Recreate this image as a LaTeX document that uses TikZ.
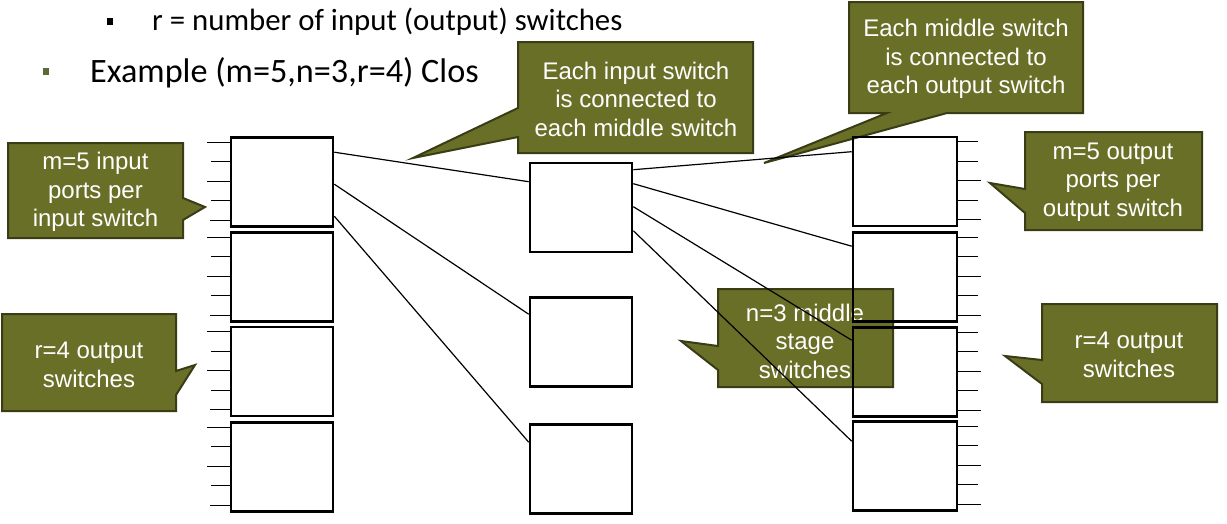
\documentclass[tikz,border=0pt]{standalone}
\usepackage{fontspec}
\setmainfont{Liberation Sans}
\newfontfamily\calfont{Carlito}
\definecolor{olivefill}{HTML}{6A6F28}
\definecolor{olivedraw}{HTML}{393C15}
\definecolor{bulletgreen}{HTML}{5C6A35}
\begin{document}
\begin{tikzpicture}[x=1pt,y=-1pt,
  swbox/.style={draw=black,line width=2.6pt,minimum width=102pt,minimum height=89pt,inner sep=0pt},
  port/.style={draw=black,line width=1.3pt},
  link/.style={draw=black,line width=1.2pt},
  callbg/.style={fill=olivefill,draw=olivedraw,line width=2pt,line join=miter},
  ctext/.style={text=white,align=center,inner sep=0pt,font=\fontsize{24}{28.5}\selectfont},
]
\useasboundingbox (0,0) rectangle (1227,523);

% top text
\fill[black] (107,17.5) rectangle (113,24.5);
\node[anchor=base west,inner sep=0pt,font=\calfont\fontsize{30.8}{36}\selectfont] (t1) at (152,30) {r = number of input (output) switches};
\fill[bulletgreen] (43,68) rectangle (49,75);
\node[anchor=base west,inner sep=0pt,font=\calfont\fontsize{34.2}{40}\selectfont] (t2) at (90,82) {Example (m=5,n=3,r=4) Clos};

% callouts (behind)
\path[callbg] (8,143) -- (183,143) -- (183,198) -- (205,207) -- (183,220) -- (183,238) -- (8,238) -- cycle;
\node[ctext] (c1) at (95.5,192) {m=5 input\\ports per\\input switch};

\path[callbg] (2,314) -- (176,314) -- (176,371) -- (195,365) -- (176,395) -- (176,411) -- (2,411) -- cycle;
\node[ctext] (c2) at (89,365) {r=4 output\\switches};

\path[callbg] (518,42) -- (753,42) -- (753,153) -- (518,153) -- (518,137) -- (413,158) -- (518,108) -- cycle;
\node[ctext] (c3) at (636,99) {Each input switch\\is connected to\\each middle switch};

\path[callbg] (849,2) -- (1083,2) -- (1083,113) -- (947,113) -- (764,163) -- (887,113) -- (849,113) -- cycle;
\node[ctext] (c4) at (966,59) {Each middle switch\\is connected to\\each output switch};

\path[callbg] (1025,132) -- (1202,132) -- (1202,230) -- (1025,230) -- (1025,213) -- (990,183) -- (1025,189) -- cycle;
\node[ctext] (c5) at (1113,182) {m=5 output\\ports per\\output switch};

\path[callbg] (718,289) -- (893,289) -- (893,387) -- (718,387) -- (718,370) -- (681,341) -- (718,346) -- cycle;
\node[ctext] (c6) at (805,341) {n=3 middle\\stage\\switches};

\path[callbg] (1042,304) -- (1217,304) -- (1217,402) -- (1042,402) -- (1042,384) -- (1005,356) -- (1042,360) -- cycle;
\node[ctext] (c7) at (1129,355) {r=4 output\\switches};

% switches
\node[swbox] (L1) at (282,182) {};
\node[swbox] (L2) at (282,277) {};
\node[swbox] (L3) at (282,371.5) {};
\node[swbox] (L4) at (282,467) {};
\node[swbox] (M1) at (581,207.5) {};
\node[swbox] (M2) at (581,342) {};
\node[swbox] (M3) at (581,469) {};
\node[swbox,minimum width=104pt] (R1) at (905,181.5) {};
\node[swbox,minimum width=104pt] (R2) at (905,277) {};
\node[swbox,minimum width=104pt] (R3) at (905,372) {};
\node[swbox,minimum width=104pt] (R4) at (905,466) {};

% ports
\foreach \b in {L1,L2,L3,L4}{
  \foreach \k/\len in {0/23,1/19,2/23,3/19,4/20}{
    \draw[port] ([yshift={-6pt-\k*19.5pt}]\b.north west) -- ++(-\len,0);
  }
}
\foreach \b in {R1,R2,R3,R4}{
  \foreach \k/\len in {0/20,1/20,2/23,3/20,4/23}{
    \draw[port] ([yshift={-6pt-\k*19.5pt}]\b.north east) -- ++(\len,0);
  }
}

% links
\draw[link] ([yshift=-16pt]L1.north east) -- ([yshift=-20pt]M1.north west);
\draw[link] ([yshift=-48pt]L1.north east) -- ([yshift=-18pt]M2.north west);
\draw[link] ([yshift=-80pt]L1.north east) -- ([yshift=-19pt]M3.north west);
\draw[link] ([yshift=-8pt]M1.north east) -- ([yshift=-16pt]R1.north west);
\draw[link] ([yshift=-22pt]M1.north east) -- ([yshift=-15pt]R2.north west);
\draw[link] ([yshift=-45pt]M1.north east) -- ([yshift=-14pt]R3.north west);
\draw[link] ([yshift=-69pt]M1.north east) -- ([yshift=-21pt]R4.north west);
\end{tikzpicture}
\end{document}
